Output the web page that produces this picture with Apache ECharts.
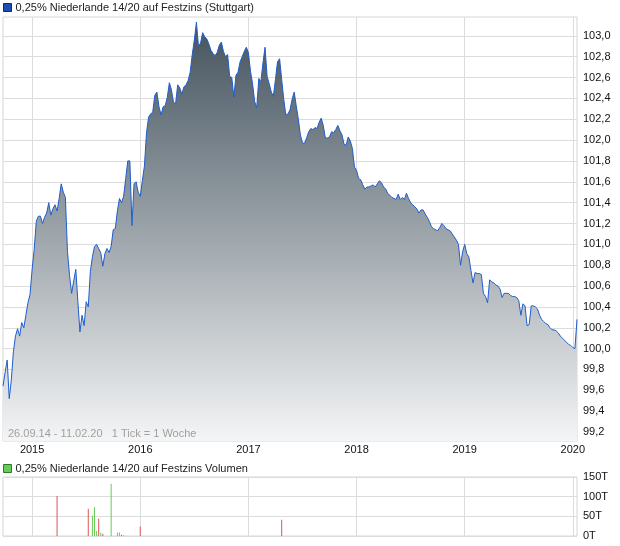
<!DOCTYPE html>
<html><head><meta charset="utf-8">
<script src="https://cdn.jsdelivr.net/npm/echarts@6/dist/echarts.min.js"></script>
<style>html,body{margin:0;padding:0;background:#fff}#c{width:620px;height:546px}</style>
</head><body><div id="c"></div>
<script>
const priceTitle = '0,25% Niederlande 14/20 auf Festzins (Stuttgart)';
const volumeTitle = '0,25% Niederlande 14/20 auf Festzins Volumen';
const rangeNote = '26.09.14 - 11.02.20   1 Tick = 1 Woche';

// weekly closing prices
const prices = [
99.64, 99.77, 99.89, 99.52, 99.70, 99.97, 100.12, 100.19, 100.12, 100.25,
100.20, 100.32, 100.44, 100.52, 100.76, 100.95, 101.22, 101.27, 101.27, 101.20,
101.26, 101.30, 101.40, 101.28, 101.34, 101.38, 101.32, 101.44, 101.58, 101.50,
101.45, 100.93, 100.70, 100.53, 100.65, 100.76, 100.45, 100.16, 100.32, 100.22,
100.45, 100.40, 100.74, 100.88, 100.98, 101.00, 100.96, 100.92, 100.79, 100.91,
100.96, 100.92, 100.98, 101.14, 101.15, 101.32, 101.44, 101.40, 101.46, 101.63,
101.80, 101.80, 101.18, 101.58, 101.60, 101.50, 101.46, 101.61, 101.75, 102.07,
102.22, 102.25, 102.27, 102.43, 102.46, 102.32, 102.24, 102.32, 102.33, 102.41,
102.55, 102.48, 102.36, 102.35, 102.53, 102.50, 102.44, 102.51, 102.53, 102.57,
102.65, 102.82, 102.96, 103.13, 102.90, 102.93, 103.03, 102.99, 102.97, 102.92,
102.86, 102.83, 102.81, 102.84, 102.91, 102.94, 102.85, 102.80, 102.82, 102.61,
102.60, 102.41, 102.62, 102.65, 102.75, 102.80, 102.85, 102.89, 102.84, 102.66,
102.54, 102.37, 102.31, 102.59, 102.56, 102.74, 102.89, 102.61, 102.54, 102.46,
102.42, 102.58, 102.75, 102.78, 102.58, 102.39, 102.24, 102.25, 102.29, 102.39,
102.46, 102.33, 102.20, 102.05, 101.97, 101.97, 102.02, 102.08, 102.11, 102.10,
102.12, 102.11, 102.17, 102.21, 102.14, 102.02, 102.02, 102.03, 102.08, 102.07,
102.10, 102.14, 102.09, 102.05, 101.96, 101.95, 102.03, 101.99, 101.92, 101.74,
101.71, 101.63, 101.62, 101.57, 101.53, 101.55, 101.55, 101.56, 101.57, 101.55,
101.58, 101.61, 101.59, 101.55, 101.53, 101.49, 101.47, 101.45, 101.44, 101.43,
101.48, 101.43, 101.45, 101.43, 101.49, 101.44, 101.40, 101.38, 101.36, 101.34,
101.30, 101.33, 101.33, 101.29, 101.26, 101.22, 101.17, 101.15, 101.14, 101.13,
101.16, 101.20, 101.18, 101.15, 101.14, 101.13, 101.10, 101.07, 101.04, 101.00,
100.80, 100.93, 101.00, 100.91, 100.88, 100.75, 100.63, 100.73, 100.72, 100.72,
100.71, 100.53, 100.50, 100.44, 100.66, 100.64, 100.63, 100.61, 100.60, 100.57,
100.49, 100.53, 100.53, 100.53, 100.51, 100.50, 100.50, 100.49, 100.46, 100.32,
100.43, 100.41, 100.22, 100.23, 100.41, 100.41, 100.40, 100.38, 100.32, 100.28,
100.26, 100.24, 100.23, 100.20, 100.18, 100.18, 100.17, 100.15, 100.12, 100.10,
100.08, 100.06, 100.04, 100.03, 100.01, 100.00, 100.28
];

// x axis: week index of first week of each year, and labels
const yearTickIndex = [14, 66, 118, 170, 222, 274];
const yearLabels = ['2015', '2016', '2017', '2018', '2019', '2020'];

// y axis tick labels (price)
const priceTicks = [99.2, 99.4, 99.6, 99.8, 100.0, 100.2, 100.4, 100.6, 100.8, 101.0,
  101.2, 101.4, 101.6, 101.8, 102.0, 102.2, 102.4, 102.6, 102.8, 103.0];
const priceMin = 99.114, priceMax = 103.18;

// volume (thousands), sparse by week index; 1 = up week (green), 0 = down (red)
const volumeWeekIndex = [26, 41, 43, 44, 45, 46, 47, 48, 52, 55, 56, 57, 58, 66, 134];
const volumeValues    = [102, 69, 52, 73, 13, 44, 8, 6, 133, 9, 9, 3, 1.5, 24, 41];
const volumeUp        = [0, 0, 1, 1, 1, 0, 1, 0, 1, 1, 1, 0, 0, 0, 0];
const volumeTicks = [0, 50, 100, 150];

const FONT = '"Liberation Sans", Arial, sans-serif';
const fmtPrice = v => v.toFixed(1).replace('.', ',');
const lastIdx = prices.length - 1;

const volData = volumeWeekIndex.map((w, k) => ({
  value: [w, volumeValues[k]],
  itemStyle: { color: volumeUp[k] ? '#66cc55' : '#dd5555' }
}));

const chart = echarts.init(document.getElementById('c'), null, { renderer: 'canvas' });
chart.setOption({
  animation: false,
  textStyle: { fontFamily: FONT },
  legend: [
    { data: [{ name: priceTitle, itemStyle: { color: '#1f4fae', borderColor: '#0d2a6a', borderWidth: 1 } }],
      left: 1, top: 0, icon: 'rect', itemWidth: 8, itemHeight: 8, itemGap: 4, padding: 2,
      selectedMode: false,
      textStyle: { fontSize: 11, color: '#222', fontFamily: FONT, padding: [1, 0, 0, -1] } },
    { data: [{ name: volumeTitle, itemStyle: { color: '#66cc55', borderColor: '#2d7a2d', borderWidth: 1 } }],
      left: 1, top: 461, icon: 'rect', itemWidth: 8, itemHeight: 8, itemGap: 4, padding: 2,
      selectedMode: false,
      textStyle: { fontSize: 11, color: '#222', fontFamily: FONT, padding: [1, 0, 0, -1] } }
  ],
  grid: [
    { left: 3, right: 43, top: 17, height: 424, show: true, borderColor: '#d6d6d6', borderWidth: 1 },
    { left: 3, right: 43, top: 477, height: 59, show: true, borderColor: '#d6d6d6', borderWidth: 1 }
  ],
  xAxis: [
    { type: 'value', gridIndex: 0, min: 0, max: lastIdx,
      axisLine: { show: false },
      axisTick: { show: false, customValues: yearTickIndex },
      splitLine: { show: true, lineStyle: { color: '#dcdcdc', width: 1 } },
      axisLabel: { customValues: yearTickIndex, formatter: v => yearLabels[yearTickIndex.indexOf(v)],
        fontSize: 11, color: '#111', margin: 3, fontFamily: FONT } },
    { type: 'value', gridIndex: 1, min: 0, max: lastIdx,
      axisLine: { show: false },
      axisTick: { show: false, customValues: yearTickIndex },
      splitLine: { show: true, lineStyle: { color: '#dcdcdc', width: 1 } },
      axisLabel: { show: false, customValues: yearTickIndex } }
  ],
  yAxis: [
    { type: 'value', gridIndex: 0, position: 'right', min: priceMin, max: priceMax,
      axisLine: { show: false },
      axisTick: { show: false, customValues: priceTicks },
      splitLine: { show: true, lineStyle: { color: '#dcdcdc', width: 1 } },
      axisLabel: { customValues: priceTicks, formatter: fmtPrice, fontSize: 11, color: '#111',
        margin: 6, fontFamily: FONT } },
    { type: 'value', gridIndex: 1, position: 'right', min: 0, max: 150,
      axisLine: { show: false },
      axisTick: { show: false, customValues: volumeTicks },
      splitLine: { show: true, lineStyle: { color: '#dcdcdc', width: 1 } },
      axisLabel: { customValues: volumeTicks, formatter: v => v + 'T', fontSize: 11, color: '#111',
        margin: 6, fontFamily: FONT } }
  ],
  series: [
    { name: priceTitle, type: 'line', xAxisIndex: 0, yAxisIndex: 0,
      data: prices.map((v, i) => [i, v]),
      symbol: 'none', silent: true,
      lineStyle: { color: '#1f5ccc', width: 1 },
      itemStyle: { color: '#1f4fae' },
      areaStyle: { origin: 'start', opacity: 1,
        color: new echarts.graphic.LinearGradient(0, 0, 0, 1, [
          { offset: 0, color: '#44535e' },
          { offset: 1, color: '#f4f5f6' }
        ]) } },
    { name: volumeTitle, type: 'bar', xAxisIndex: 1, yAxisIndex: 1,
      data: volData, barWidth: 1, silent: true,
      itemStyle: { color: '#66cc55' } }
  ],
  graphic: [
    { type: 'text', left: 8, top: 428, z: 100, zlevel: 0, silent: true,
      style: { text: rangeNote, fill: '#a0a0a0', fontSize: 11, fontFamily: FONT } }
  ]
});
</script>
</body></html>
